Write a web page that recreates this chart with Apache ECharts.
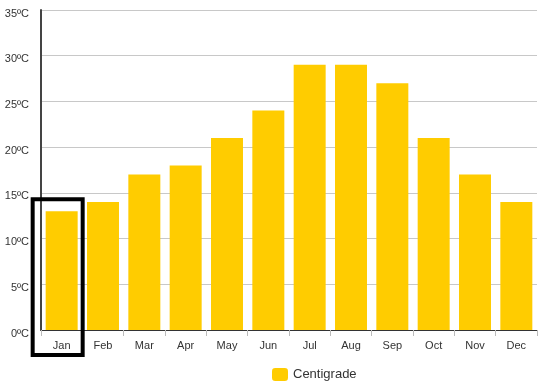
<!DOCTYPE html>
<html>
<head>
<meta charset="utf-8">
<script src="https://cdn.jsdelivr.net/npm/echarts@6/dist/echarts.min.js"></script>
<style>
html,body{margin:0;padding:0;background:#fff;}
#c{width:539px;height:385px;}
</style>
</head>
<body>
<div id="c"></div>
<script>
var months = ['Jan','Feb','Mar','Apr','May','Jun','Jul','Aug','Sep','Oct','Nov','Dec'];
var centigrade = [13,14,17,18,21,24,29,29,27,21,17,14];
var seriesName = 'Centigrade';
var highlightMonth = 'Jan';

var chart = echarts.init(document.getElementById('c'), null, {renderer:'canvas'});
var font = 'Liberation Sans, Arial, sans-serif';
chart.setOption({
  animation:false,
  grid:{left:41,right:2,top:10,bottom:55,containLabel:false},
  legend:{
    data:[seriesName], left:267, top:363, itemWidth:16, itemHeight:13, itemGap:6,
    textStyle:{fontFamily:font,fontSize:13,color:'#333'}
  },
  xAxis:{
    type:'category', data:months,
    axisLine:{lineStyle:{color:'#333',width:1}},
    axisTick:{show:true,alignWithLabel:false,length:6,lineStyle:{color:'#bbb'}},
    axisLabel:{fontFamily:font,fontSize:11,color:'#333',margin:10}
  },
  yAxis:{
    type:'value', min:0, max:35, interval:5,
    axisLine:{show:true,lineStyle:{color:'#444',width:2}},
    axisTick:{show:false},
    splitLine:{lineStyle:{color:'#c8c8c8',width:1}},
    axisLabel:{fontFamily:font,fontSize:11,color:'#333',margin:12,formatter:'{value}ºC',verticalAlign:'top',lineHeight:7}
  },
  series:[{
    name:seriesName, type:'bar', data:centigrade,
    barCategoryGap:'22.6%',
    itemStyle:{color:'#ffcc00'}
  }]
});

var hIdx = months.indexOf(highlightMonth);
var barTop = chart.convertToPixel({seriesIndex:0},[hIdx, centigrade[hIdx]]);
var barBase = chart.convertToPixel({seriesIndex:0},[hIdx, 0]);
chart.setOption({
  graphic:[{
    type:'rect',
    shape:{x:barTop[0]-29, y:barTop[1]-12, width:50, height:(barBase[1]+25)-(barTop[1]-12)},
    style:{fill:'none',stroke:'#000',lineWidth:4},
    z:100
  }]
});
</script>
</body>
</html>
